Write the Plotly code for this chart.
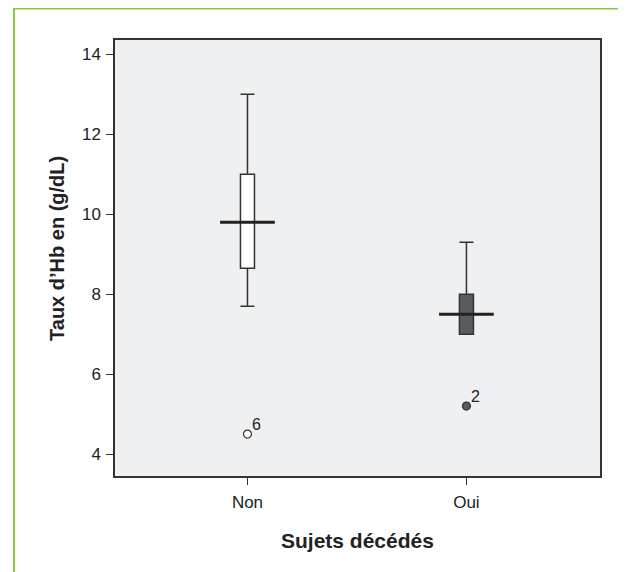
import plotly.graph_objects as go

# Data
groups = ["Non", "Oui"]
q1_vals = [8.65, 7.0]
median_vals = [9.8, 7.5]
q3_vals = [11.0, 8.0]
lower_vals = [7.7, 7.0]
upper_vals = [13.0, 9.3]
outlier_vals = [4.5, 5.2]
outlier_ids = ["6", "2"]
y_ticks = [4, 6, 8, 10, 12, 14]
x_title = "Sujets décédés"
y_title = "Taux d’Hb en (g/dL)"

# Styles
box_fills = ["#ffffff", "#585b5f"]
outlier_fills = ["#ffffff", "#585b5f"]
box_width = 0.064
median_half = 0.125
FONT = "Arial, Liberation Sans, Helvetica, sans-serif"
DARK = "#333333"

fig = go.Figure()
positions = list(range(len(groups)))

for i, g in enumerate(groups):
    fig.add_trace(go.Box(
        x=[positions[i]], q1=[q1_vals[i]], median=[median_vals[i]], q3=[q3_vals[i]],
        lowerfence=[lower_vals[i]], upperfence=[upper_vals[i]],
        width=box_width, whiskerwidth=1, boxpoints=False,
        fillcolor=box_fills[i], line=dict(color=DARK, width=1.5),
        showlegend=False, hoverinfo="skip",
    ))
    fig.add_trace(go.Scatter(
        x=[positions[i] - median_half, positions[i] + median_half],
        y=[median_vals[i], median_vals[i]],
        mode="lines", line=dict(color="#222222", width=3),
        showlegend=False, hoverinfo="skip",
    ))
    fig.add_trace(go.Scatter(
        x=[positions[i]], y=[outlier_vals[i]], mode="markers",
        marker=dict(symbol="circle", size=8, color=outlier_fills[i],
                    line=dict(color=DARK, width=1.2)),
        showlegend=False, hoverinfo="skip",
    ))
    fig.add_annotation(
        x=positions[i], y=outlier_vals[i], xref="x", yref="y",
        text=outlier_ids[i], showarrow=False, xanchor="left", yanchor="bottom",
        xshift=3, yshift=-1, font=dict(family=FONT, size=16, color="#222222"),
    )

fig.update_layout(
    width=618, height=564,
    margin=dict(l=107, r=26, t=32, b=96),
    paper_bgcolor="white", plot_bgcolor="#eff0f2",
    font=dict(family=FONT, size=17, color="#222222"),
    xaxis=dict(
        range=[-0.605, 1.61], tickmode="array", tickvals=positions, ticktext=groups,
        showgrid=False, zeroline=False, ticks="outside", ticklen=7,
        tickcolor=DARK, showline=True, linecolor=DARK, linewidth=1.5, mirror=True,
        tickfont=dict(size=17), ticklabelstandoff=3,
    ),
    yaxis=dict(
        range=[3.45, 14.36], tickmode="array", tickvals=y_ticks,
        showgrid=False, zeroline=False, ticks="outside", ticklen=7,
        tickcolor=DARK, showline=True, linecolor=DARK, linewidth=1.5, mirror=True,
        tickfont=dict(size=17), ticklabelstandoff=2,
    ),
)

# Axis titles as annotations for precise placement
fig.add_annotation(
    x=0.5, y=-0.1468, xref="paper", yref="paper", text="<b>" + x_title + "</b>",
    showarrow=False, xanchor="center", yanchor="middle",
    font=dict(family=FONT, size=21, color="#222222"),
)
fig.add_annotation(
    x=-0.1196, y=0.523, xref="paper", yref="paper", text="<b>" + y_title + "</b>",
    showarrow=False, xanchor="center", yanchor="middle", textangle=-90,
    font=dict(family=FONT, size=20, color="#222222"),
)

# Green frame around figure (open at bottom)
fig.add_shape(
    type="path", xref="paper", yref="paper",
    path="M -0.2082,-0.4 L -0.2082,1.0722 L 1.0433,1.0722 L 1.0433,-0.4",
    line=dict(color="#8cc63e", width=2), layer="above",
)

fig.write_html("out.html")
